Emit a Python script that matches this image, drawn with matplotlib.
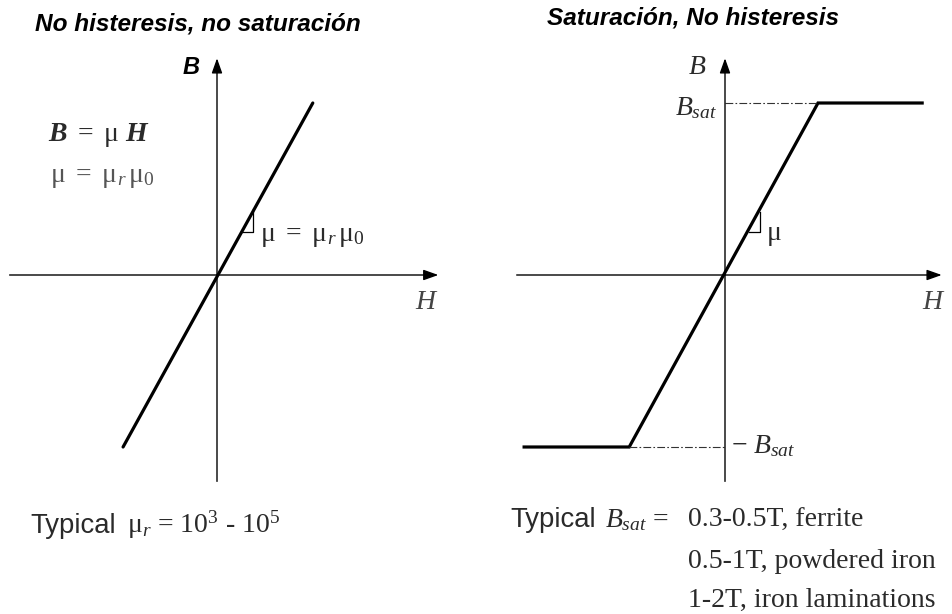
import numpy as np
import matplotlib
matplotlib.use("Agg")
import matplotlib.pyplot as plt

plt.rcParams['mathtext.fontset'] = 'custom'
plt.rcParams['mathtext.rm'] = 'Liberation Serif'
plt.rcParams['mathtext.it'] = 'Liberation Serif:italic'
plt.rcParams['mathtext.bf'] = 'Liberation Serif:bold:italic'
plt.rcParams['mathtext.sf'] = 'Liberation Sans'

W, Hpx = 953, 614

# curve data (H, B in units of H_sat, B_sat)
lin_H = [-1.01, 1.03]
lin_B = [-1.0, 1.0]
sat_H = [-2.16, -1.03, 1.0, 2.12]
sat_B = [-1.0, -1.0, 1.0, 1.0]

# axis extents
h_axis_left = [-2.23, 2.38]
h_axis_right = [-2.24, 2.33]
b_axis = [-1.20, 1.26]

# pixel scale of a unit and origin of each panel
sx, sy = 93.0, 172.0
origins = {'left': (217, 275), 'right': (725, 275)}


def panel(ox, oy):
    ax = fig.add_axes([0, 0, 1, 1])
    ax.set_xlim(-ox / sx, (W - ox) / sx)
    ax.set_ylim(-(Hpx - oy) / sy, oy / sy)
    ax.axis('off')
    ax.patch.set_alpha(0)
    return ax


def axes_arrows(ax, hx):
    arr = dict(arrowstyle='-|>,head_length=0.9,head_width=0.32', lw=1.0,
               color='k', shrinkA=0, shrinkB=0)
    ax.annotate('', xy=(hx[1], 0), xytext=(hx[0], 0), arrowprops=arr)
    ax.annotate('', xy=(0, b_axis[1]), xytext=(0, b_axis[0]), arrowprops=arr)


def slope_mark(ax, slope, y0, dx):
    # small right triangle on the line
    x0 = y0 / slope
    ax.plot([x0, x0 + dx, x0 + dx], [y0, y0, slope * (x0 + dx)],
            color='k', lw=0.9)


fig = plt.figure(figsize=(W / 100, Hpx / 100), dpi=100)

axl = panel(*origins['left'])
axes_arrows(axl, h_axis_left)
axl.plot(lin_H, lin_B, color='k', lw=2.3, solid_capstyle='round')
slope_mark(axl, (lin_B[1] - lin_B[0]) / (lin_H[1] - lin_H[0]), 0.25, 0.135)

axr = panel(*origins['right'])
axes_arrows(axr, h_axis_right)
axr.plot(sat_H, sat_B, color='k', lw=2.3, solid_joinstyle='miter')
axr.plot([0, sat_H[2]], [sat_B[2], sat_B[2]], color='#333333', lw=0.8,
         dashes=(7, 2, 1.5, 2))
axr.plot([sat_H[1], 0], [sat_B[1], sat_B[1]], color='#333333', lw=0.8,
         dashes=(7, 2, 1.5, 2))
sl = (sat_B[2] - sat_B[1]) / (sat_H[2] - sat_H[1])
slope_mark(axr, sl, 0.25, 0.12)


def txt(x, y, s, **kw):
    fig.text(x / W, 1 - y / Hpx, s, va='baseline', **kw)


sans = dict(family='Liberation Sans')
serif = dict(family='Liberation Serif')
gray = '#2a2a2a'
fs = 20

txt(35, 30, 'No histeresis, no saturación', fontsize=17.6, style='italic',
    weight='bold', **sans)
txt(547, 24, 'Saturación, No histeresis', fontsize=17.6, style='italic',
    weight='bold', **sans)

txt(183, 74, 'B', fontsize=17, style='italic', weight='bold', **sans)
txt(48, 141, r'$\mathbf{B}\ \mathrm{=\ μ}\ \mathbf{H}$', fontsize=fs, color=gray)
txt(50, 182, r'$\mathrm{μ\ =\ μ}_{r}\,\mathrm{μ}_{\mathrm{0}}$', fontsize=fs,
    color='#555555')
txt(260, 241, r'$\mathrm{μ\ =\ μ}_{r}\,\mathrm{μ}_{0}$', fontsize=fs, color=gray)
txt(415, 309, r'$H$', fontsize=20, color='#444444')
txt(30, 533, 'Typical', fontsize=19.8, color=gray, **sans)
txt(127, 533, r'$\mathrm{μ}_{r}$ = 10$^{3}$ - 10$^{5}$', fontsize=fs,
    color=gray, **serif)

txt(688, 74, r'$B$', fontsize=20, color=gray)
txt(675, 115, r'$B_{sat}$', fontsize=20, color=gray)
txt(766, 240, r'$\mathrm{μ}$', fontsize=fs, color=gray)
txt(922, 309, r'$H$', fontsize=20, color='#444444')
txt(731, 453, r'$\mathrm{-}\ B_{sat}$', fontsize=fs, color=gray)
txt(510, 527, 'Typical', fontsize=19.8, color=gray, **sans)
txt(605, 527, r'$B_{sat}$ =', fontsize=fs, color=gray, **serif)
txt(688, 527, '0.3-0.5T, ferrite', fontsize=fs, **serif, color=gray)
txt(688, 568, '0.5-1T, powdered iron', fontsize=fs, **serif, color=gray)
txt(688, 607, '1-2T, iron laminations', fontsize=fs, **serif, color=gray)

fig.savefig('out.png', dpi=100)
